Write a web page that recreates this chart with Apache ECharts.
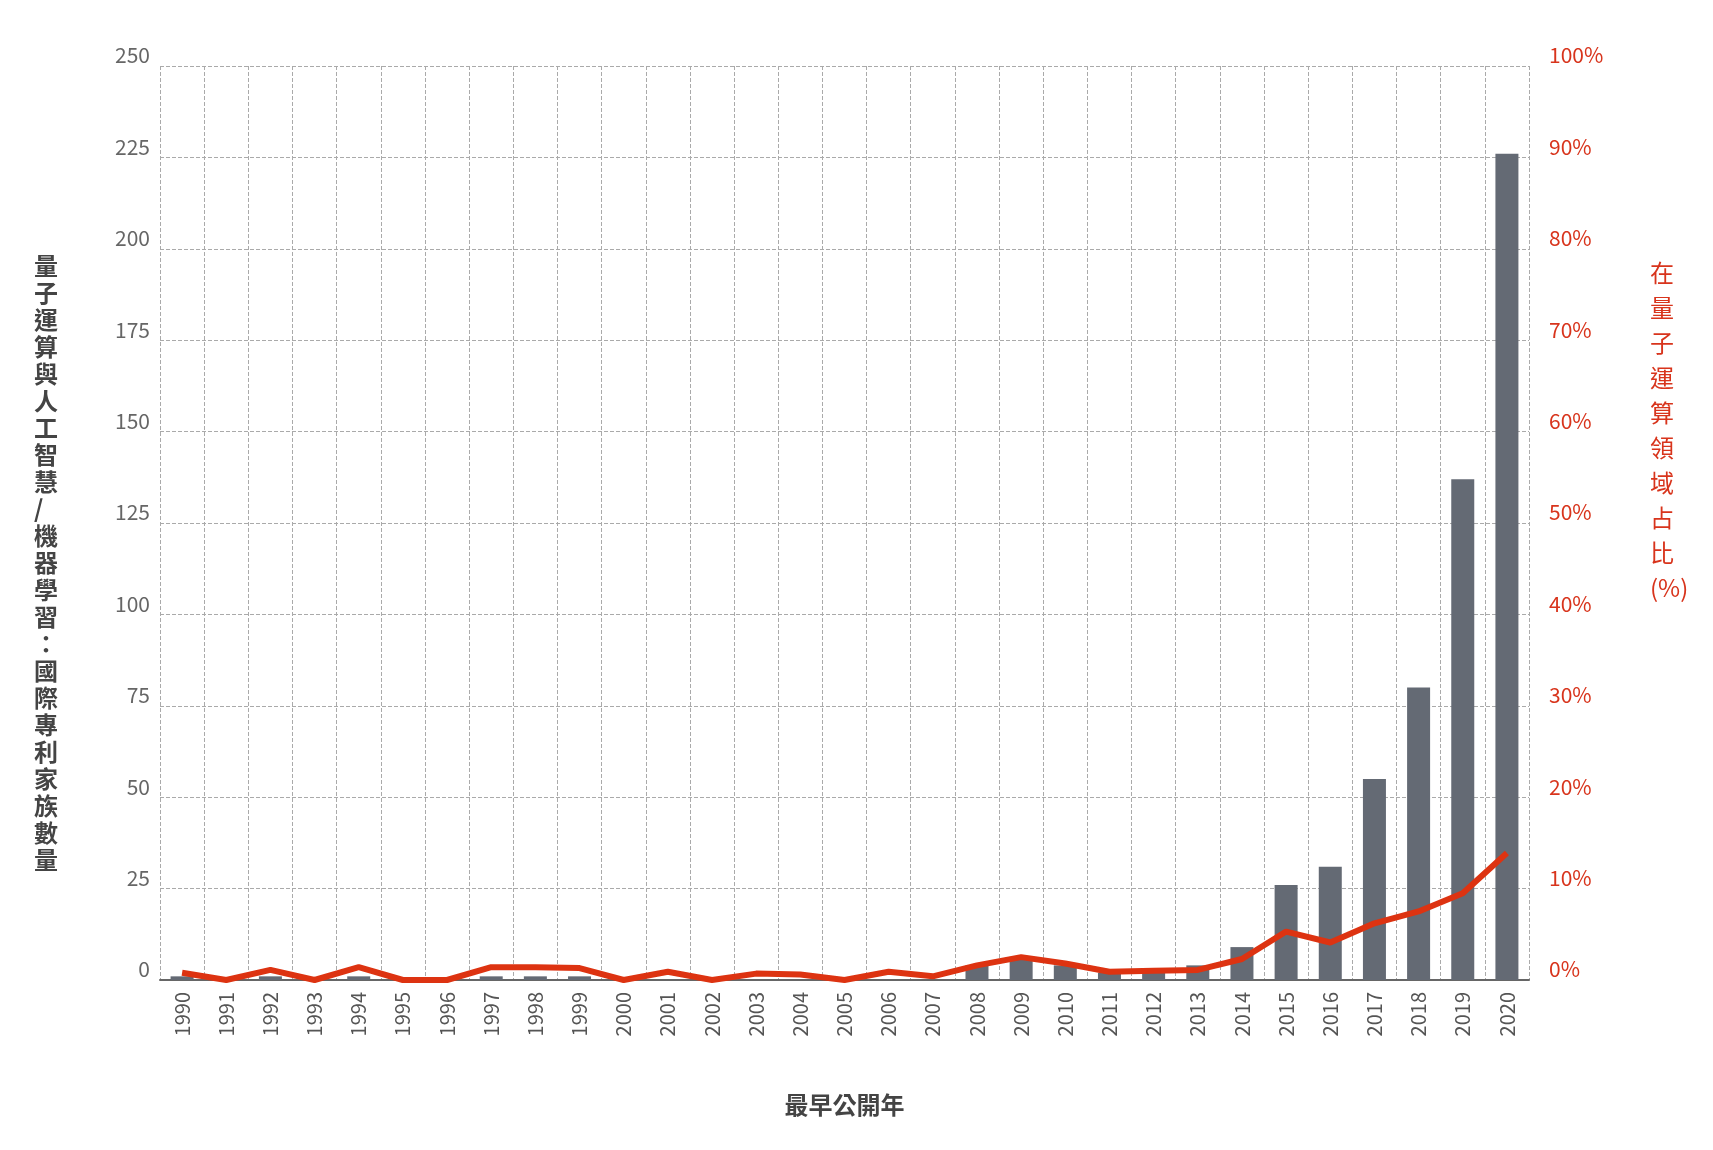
<!DOCTYPE html>
<html><head><meta charset="utf-8">
<script src="https://cdn.jsdelivr.net/npm/echarts@6/dist/echarts.min.js"></script>
<style>html,body{margin:0;background:#fff}#c{width:1713px;height:1150px}</style>
</head><body><div id="c"></div>
<script>
const years = ['1990','1991','1992','1993','1994','1995','1996','1997','1998','1999','2000','2001','2002','2003','2004','2005','2006','2007','2008','2009','2010','2011','2012','2013','2014','2015','2016','2017','2018','2019','2020'];
const families = [1,0,1,0,1,0,0,1,1,1,0,0,0,0,0,0,0,0,4,6,4,2,2,4,9,26,31,55,80,137,226];
const sharePct = [0.8,0,1.1,0,1.4,0,0,1.4,1.4,1.3,0,0.9,0,0.7,0.6,0,0.9,0.4,1.6,2.5,1.8,0.9,1.0,1.1,2.3,5.3,4.1,6.2,7.5,9.5,13.9];
const leftName = '量子運算與人工智慧/機器學習：國際專利家族數量';
const rightName = '在量子運算領域占比(%)';
const xName = '最早公開年';
const F = '"Noto Sans CJK TC","Noto Sans",sans-serif';
const grid = {type:'dashed', color:'#aaa', width:1};
const chart = echarts.init(document.getElementById('c'));
chart.setOption({
  animation:false,
  grid:{left:160,right:184,top:66,bottom:170},
  xAxis:{type:'category',data:years,boundaryGap:true,
    name:xName,nameLocation:'middle',nameGap:113,
    nameTextStyle:{fontFamily:F,fontSize:24,fontWeight:'bold',color:'#444'},
    axisLine:{lineStyle:{color:'#666',width:2}},axisTick:{show:false},
    axisLabel:{rotate:90,fontFamily:F,fontSize:20,color:'#555',margin:12},
    splitLine:{show:true,lineStyle:grid}},
  yAxis:[
    {type:'value',min:0,max:250,interval:25,
     axisLine:{show:false},axisTick:{show:false},
     axisLabel:{fontFamily:F,fontSize:21,color:'#666',verticalAlign:'bottom',margin:10},
     splitLine:{lineStyle:grid}},
    {type:'value',min:0,max:100,interval:10,position:'right',
     axisLine:{show:false},axisTick:{show:false},
     axisLabel:{formatter:'{value}%',fontFamily:F,fontSize:21,color:'#d8341c',verticalAlign:'bottom',margin:20},
     splitLine:{show:false}}
  ],
  graphic:[
    {type:'text',left:34,top:252,style:{text:leftName.split('').join('\n'),font:'bold 24px '+F,fill:'#444',lineHeight:27,align:'center'}},
    {type:'text',left:1650,top:255,style:{text:['在','量','子','運','算','領','域','占','比','(%)'].join('\n'),font:'24px '+F,fill:'#d8341c',lineHeight:35,align:'center'}}
  ],
  series:[
    {type:'bar',data:families,barWidth:23,itemStyle:{color:'#646a74'}},
    {type:'line',yAxisIndex:1,data:sharePct,symbol:'none',lineStyle:{color:'#dd3311',width:6},z:5}
  ]
});
</script></body></html>
